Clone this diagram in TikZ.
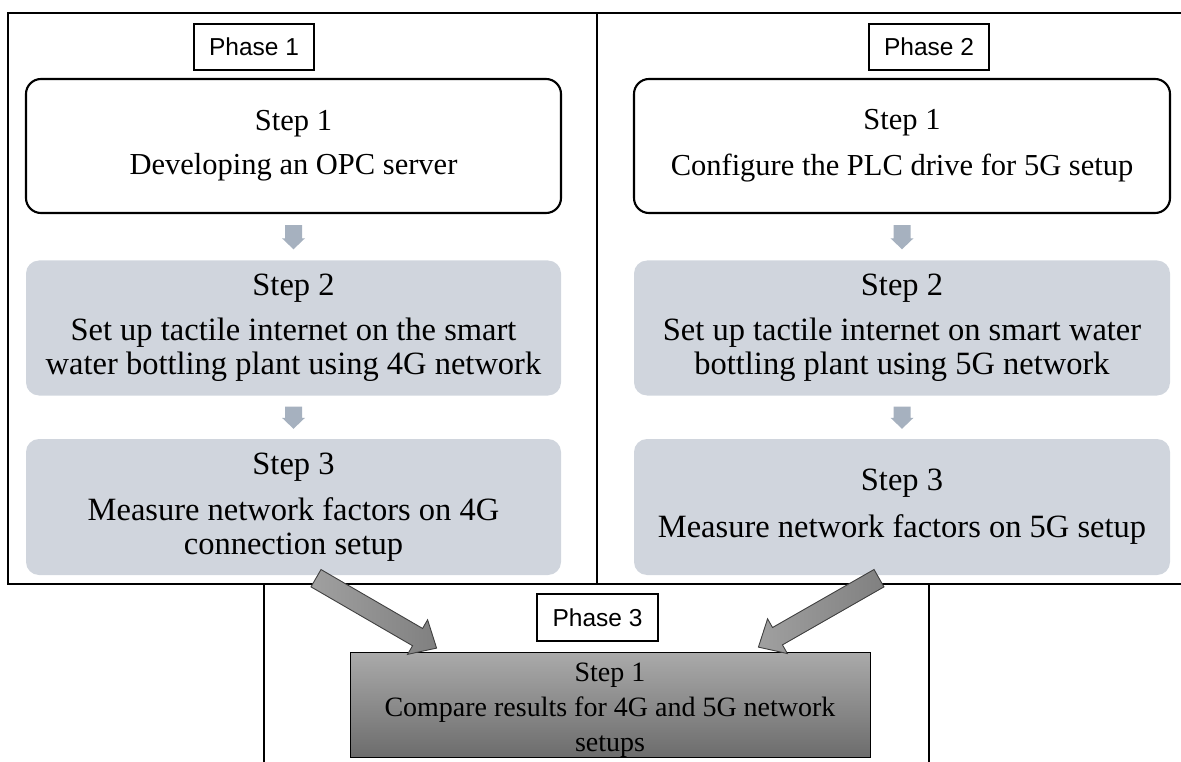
\documentclass[tikz,border=0pt]{standalone}
\usepackage{fontspec}
\setmainfont{Liberation Serif}
\newfontfamily\phasefont{Liberation Sans}
\usetikzlibrary{calc}

\definecolor{stepgray}{RGB}{208,213,221}
\definecolor{flowarrow}{RGB}{166,177,191}
\definecolor{mergelight}{RGB}{160,160,160}
\definecolor{mergedark}{RGB}{128,128,128}
\definecolor{resulttop}{RGB}{170,170,170}
\definecolor{resultbottom}{RGB}{108,108,108}

% block arrow: #1 style, #2 tail, #3 tip, #4 half shaft width, #5 half head width, #6 head length
\newcommand\blockarrow[6]{%
  \coordinate (neck) at ($(#3)!#6!(#2)$);
  \path[#1] ($(#2)!#4!90:(#3)$) -- ($(neck)!#4!90:(#3)$) -- ($(neck)!#5!90:(#3)$)
    -- (#3) -- ($(neck)!#5!-90:(#3)$) -- ($(neck)!#4!-90:(#3)$)
    -- ($(#2)!#4!-90:(#3)$) -- cycle;
}

\tikzset{
  panel/.style={line width=2pt, draw=black},
  phasebox/.style={draw=black, line width=2.3pt, fill=white, inner sep=0pt,
    minimum width=120pt, minimum height=46pt, font=\phasefont\fontsize{24.5}{28}\selectfont},
  firststep/.style={draw=black, line width=2.1pt, rounded corners=15pt, fill=white,
    inner sep=0pt, minimum height=134pt, align=center, font=\fontsize{30.5}{34}\selectfont},
  graystep/.style={fill=stepgray, rounded corners=13pt, inner sep=0pt,
    minimum height=135pt, align=center, font=\fontsize{32.5}{34}\selectfont},
  resultbox/.style={draw=black, line width=0.8pt, top color=resulttop, bottom color=resultbottom,
    inner sep=0pt, minimum width=520pt, minimum height=104pt, align=center,
    font=\fontsize{28}{35}\selectfont},
  smallflow/.style={fill=flowarrow},
  mergeflow/.style={draw=black!75, line width=0.9pt, left color=mergelight, right color=mergedark},
}

\begin{document}
\begin{tikzpicture}[x=1pt, y=-1pt]
\useasboundingbox (0,0) rectangle (1181,762);
\clip (0,0) rectangle (1181,762);

% panel frames
\draw[panel] (1190,12.7) -- (8,12.7) -- (8,584) -- (1190,584);
\draw[panel] (597,12.7) -- (597,584);
\draw[panel] (264,584) -- (264,775);
\draw[panel] (929,584) -- (929,775);

% phase 1
\node[phasebox] (ph1) at (254,47) {Phase 1};
\node[firststep, minimum width=535pt] (l1) at (293.5,146)
  {Step 1\\[10pt]Developing an OPC server};
\node[graystep, minimum width=535pt] (l2) at (293.5,328)
  {Step 2\\[11pt]Set up tactile internet on the smart\\water bottling plant using 4G network};
\node[graystep, minimum width=535pt, minimum height=136pt] (l3) at (293.5,507)
  {Step 3\\[12pt]Measure network factors on 4G\\connection setup};

% phase 2
\node[phasebox] (ph2) at (929,47) {Phase 2};
\node[firststep, minimum width=536pt] (r1) at (902,146)
  {Step 1\\[12pt]Configure the PLC drive for 5G setup};
\node[graystep, minimum width=536pt] (r2) at (902,328)
  {Step 2\\[11pt]Set up tactile internet on smart water\\bottling plant using 5G network};
\node[graystep, minimum width=536pt, minimum height=136pt] (r3) at (902,507)
  {Step 3\\[13pt]Measure network factors on 5G setup};

% phase 3
\node[phasebox, minimum width=121pt, minimum height=47pt] (ph3) at (597.5,617.5) {Phase 3};
\node[resultbox] (res) at (610,705)
  {\rule{0pt}{29pt}Step 1\\Compare results for 4G and 5G network\\setups};

% step-to-step arrows
\coordinate (l12a) at ($(l1.south)+(0,11)$);
\coordinate (l12b) at ($(l2.north)+(0,-11)$);
\coordinate (l23a) at ($(l2.south)+(0,11)$);
\coordinate (l23b) at ($(l3.north)+(0,-10)$);
\coordinate (r12a) at ($(r1.south)+(0,11)$);
\coordinate (r12b) at ($(r2.north)+(0,-11)$);
\coordinate (r23a) at ($(r2.south)+(0,11)$);
\coordinate (r23b) at ($(r3.north)+(0,-10)$);
\blockarrow{smallflow}{l12a}{l12b}{8.5pt}{11.5pt}{11pt}
\blockarrow{smallflow}{l23a}{l23b}{8.5pt}{11.5pt}{11pt}
\blockarrow{smallflow}{r12a}{r12b}{8.5pt}{11.5pt}{11pt}
\blockarrow{smallflow}{r23a}{r23b}{8.5pt}{11.5pt}{11pt}

% arrows merging into phase 3
\coordinate (lt) at ($(l3.south)+(22.5,3)$);
\coordinate (lh) at ($(res.north west)+(87,-4)$);
\coordinate (rt) at ($(r3.south)+(-23,3)$);
\coordinate (rh) at ($(res.north east)+(-112,-5)$);
\blockarrow{mergeflow}{lt}{lh}{10pt}{20pt}{22pt}
\blockarrow{mergeflow}{rt}{rh}{10pt}{20pt}{22pt}
\end{tikzpicture}
\end{document}
